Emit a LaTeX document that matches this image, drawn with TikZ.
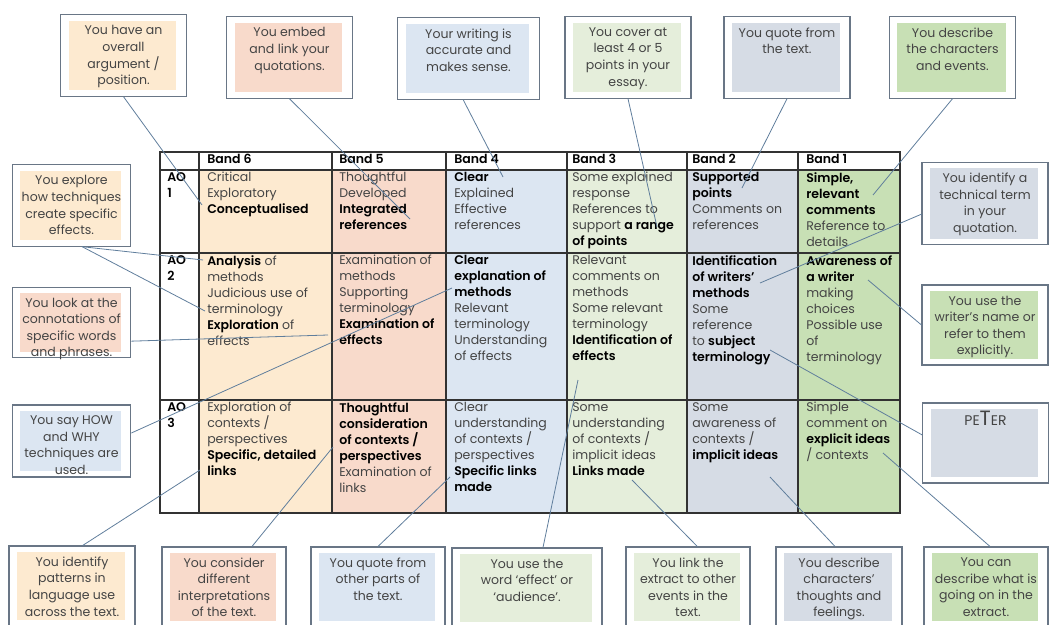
\documentclass[tikz,border=0pt]{standalone}
\usepackage{fontspec}
\setmainfont{Poppins}[BoldFont={Poppins SemiBold}]
\usepackage{xcolor}
\usepackage{tikz}
\usetikzlibrary{positioning}

\definecolor{peach}{RGB}{253,234,208}
\definecolor{salmon}{RGB}{248,218,203}
\definecolor{paleblue}{RGB}{220,230,242}
\definecolor{palegreen}{RGB}{229,238,219}
\definecolor{greyblue}{RGB}{214,220,229}
\definecolor{midgreen}{RGB}{200,224,181}
\definecolor{boxline}{RGB}{105,118,134}
\definecolor{linkblue}{RGB}{96,126,156}
\definecolor{textgrey}{RGB}{68,68,68}
\definecolor{gridline}{RGB}{50,50,50}

\newcommand{\cellfont}{\fontsize{9.4}{12}\selectfont}
\newcommand{\callfont}{\fontsize{9.4}{12.4}\selectfont}
\newcommand{\bandbf}[1]{{\bfseries\color{black}#1}}

\begin{document}
\begin{tikzpicture}[x=0.75pt,y=-0.75pt,
    callout/.style={draw=boxline,fill=white,line width=0.8pt,inner sep=0pt,
      path picture={\fill[#1] ([xshift=6pt,yshift=-4.5pt]path picture bounding box.north west)
        rectangle ([xshift=-7.5pt,yshift=4.5pt]path picture bounding box.south east);}},
    calltext/.style={anchor=north,align=center,font=\callfont,text=textgrey,yshift=-5pt},
    cell/.style={anchor=north west,align=left,inner sep=0pt,font=\cellfont,text=textgrey},
    link/.style={draw=linkblue,line width=0.6pt},
    grid line/.style={draw=gridline,line width=0.9pt}]

    \useasboundingbox (0,0) rectangle (1051,625);

    % band colours
    \fill[peach] (199,170) rectangle (332,513);
    \fill[salmon] (332,170) rectangle (446,513);
    \fill[paleblue] (446,170) rectangle (567,513);
    \fill[palegreen] (567,170) rectangle (687,513);
    \fill[greyblue] (687,170) rectangle (798,513);
    \fill[midgreen] (798,170) rectangle (900,513);

    % grid
    \draw[grid line] (160,152) rectangle (900,513);
    \draw[grid line] (160,170) -- (900,170);
    \draw[grid line] (160,253) -- (900,253);
    \draw[grid line] (160,400) -- (900,400);
    \foreach \cx in {199,332,446,567,687,798}
        \draw[grid line] (\cx,152) -- (\cx,513);

    % header
    \node[cell] (h6) at (207,154) {\bandbf{Band 6}};
    \node[cell] (h5) at (339,154) {\bandbf{Band 5}};
    \node[cell] (h4) at (454,154) {\bandbf{Band 4}};
    \node[cell] (h3) at (572,154) {\bandbf{Band 3}};
    \node[cell] (h2) at (692,154) {\bandbf{Band 2}};
    \node[cell] (h1) at (806,154) {\bandbf{Band 1}};

    % AO 1
    \node[cell] (ao1) at (167,172) {\bandbf{AO}\\\bandbf{1}};
    \node[cell] (b6a1) at (207,172) {Critical\\Exploratory\\\bandbf{Conceptualised}};
    \node[cell] (b5a1) at (339,172) {Thoughtful\\Developed\\\bandbf{Integrated}\\\bandbf{references}};
    \node[cell] (b4a1) at (454,172) {\bandbf{Clear}\\Explained\\Effective\\references};
    \node[cell] (b3a1) at (572,172) {Some explained\\response\\References to\\support \bandbf{a range}\\\bandbf{of points}};
    \node[cell] (b2a1) at (692,172) {\bandbf{Supported}\\\bandbf{points}\\Comments on\\references};
    \node[cell] (b1a1) at (806,172) {\bandbf{Simple,}\\\bandbf{relevant}\\\bandbf{comments}\\Reference to\\details};

    % AO 2
    \node[cell] (ao2) at (167,255) {\bandbf{AO}\\\bandbf{2}};
    \node[cell] (b6a2) at (207,255) {\bandbf{Analysis} of\\methods\\Judicious use of\\terminology\\\bandbf{Exploration} of\\effects};
    \node[cell] (b5a2) at (339,255) {Examination of\\methods\\Supporting\\terminology\\\bandbf{Examination of}\\\bandbf{effects}};
    \node[cell] (b4a2) at (454,255) {\bandbf{Clear}\\\bandbf{explanation of}\\\bandbf{methods}\\Relevant\\terminology\\Understanding\\of effects};
    \node[cell] (b3a2) at (572,255) {Relevant\\comments on\\methods\\Some relevant\\terminology\\\bandbf{Identification of}\\\bandbf{effects}};
    \node[cell] (b2a2) at (692,255) {\bandbf{Identification}\\\bandbf{of writers'}\\\bandbf{methods}\\Some\\reference\\to \bandbf{subject}\\\bandbf{terminology}};
    \node[cell] (b1a2) at (806,255) {\bandbf{Awareness of}\\\bandbf{a writer}\\making\\choices\\Possible use\\of\\terminology};

    % AO 3
    \node[cell] (ao3) at (167,402) {\bandbf{AO}\\\bandbf{3}};
    \node[cell] (b6a3) at (207,402) {Exploration of\\contexts /\\perspectives\\\bandbf{Specific, detailed}\\\bandbf{links}};
    \node[cell] (b5a3) at (339,402) {\bandbf{Thoughtful}\\\bandbf{consideration}\\\bandbf{of contexts /}\\\bandbf{perspectives}\\Examination of\\links};
    \node[cell] (b4a3) at (454,402) {Clear\\understanding\\of contexts /\\perspectives\\\bandbf{Specific links}\\\bandbf{made}};
    \node[cell] (b3a3) at (572,402) {Some\\understanding\\of contexts /\\implicit ideas\\\bandbf{Links made}};
    \node[cell] (b2a3) at (692,402) {Some\\awareness of\\contexts /\\\bandbf{implicit ideas}};
    \node[cell] (b1a3) at (806,402) {Simple\\comment on\\\bandbf{explicit ideas}\\/ contexts};

    % callouts above
    \node[callout=peach,minimum width=94pt,minimum height=61pt,
        label={[calltext]north:{You have an\\overall\\argument /\\position.}}] (argument) at (123.5,55.5) {};
    \node[callout=salmon,minimum width=94pt,minimum height=61pt,
        label={[calltext]north:{You embed\\and link your\\quotations.}}] (embed) at (289.5,57.5) {};
    \node[callout=paleblue,minimum width=106pt,minimum height=61pt,
        label={[calltext]north:{Your writing is\\accurate and\\makes sense.}}] (accurate) at (468.5,58.5) {};
    \node[callout=palegreen,minimum width=94.5pt,minimum height=61pt,
        label={[calltext]north:{You cover at\\least 4 or 5\\points in your\\essay.}}] (range) at (628,57.5) {};
    \node[callout=greyblue,minimum width=94.5pt,minimum height=61pt,
        label={[calltext]north:{You quote from\\the text.}}] (quote) at (787,57.5) {};
    \node[callout=midgreen,minimum width=95pt,minimum height=61pt,
        label={[calltext]north:{You describe\\the characters\\and events.}}] (events) at (952.5,57.5) {};

    % callouts right
    \node[callout=greyblue,minimum width=94.5pt,minimum height=62pt,
        label={[calltext]north:{You identify a\\technical term\\in your\\quotation.}}] (techterm) at (985,203.5) {};
    \node[callout=midgreen,minimum width=94.5pt,minimum height=60pt,
        label={[calltext]north:{You use the\\writer's name or\\refer to them\\explicitly.}}] (writername) at (985,325) {};
    \node[callout=greyblue,minimum width=94pt,minimum height=60pt,
        label={[calltext,yshift=2pt]north:{\fontsize{10.5}{12}\selectfont PE\fontsize{15.5}{15}\selectfont T\fontsize{10.5}{12}\selectfont ER}}] (peter) at (985.5,443) {};

    % callouts left
    \node[callout=peach,minimum width=89pt,minimum height=61pt,
        label={[calltext]north:{You explore\\how techniques\\create specific\\effects.}}] (explore) at (71.5,205.5) {};
    \node[callout=salmon,minimum width=89pt,minimum height=53pt,
        label={[calltext]north:{You look at the\\connotations of\\specific words\\and phrases.}}] (connotations) at (71.5,322.5) {};
    \node[callout=paleblue,minimum width=89pt,minimum height=54pt,
        label={[calltext]north:{You say HOW\\and WHY\\techniques are\\used.}}] (howwhy) at (71.5,441) {};

    % callouts below
    \node[callout=peach,minimum width=94.5pt,minimum height=60pt,
        label={[calltext]north:{You identify\\patterns in\\language use\\across the text.}}] (patterns) at (72,586) {};
    \node[callout=salmon,minimum width=93pt,minimum height=60pt,
        label={[calltext]north:{You consider\\different\\interpretations\\of the text.}}] (interpret) at (224,587) {};
    \node[callout=paleblue,minimum width=100.5pt,minimum height=60pt,
        label={[calltext]north:{You quote from\\other parts of\\the text.}}] (otherparts) at (378,587) {};
    \node[callout=palegreen,minimum width=112.5pt,minimum height=60pt,
        label={[calltext]north:{You use the\\word `effect' or\\`audience'.}}] (effectword) at (527,588) {};
    \node[callout=palegreen,minimum width=93pt,minimum height=60pt,
        label={[calltext]north:{You link the\\extract to other\\events in the\\text.}}] (linkextract) at (688,587) {};
    \node[callout=greyblue,minimum width=94.5pt,minimum height=60pt,
        label={[calltext]north:{You describe\\characters'\\thoughts and\\feelings.}}] (thoughts) at (839,587) {};
    \node[callout=midgreen,minimum width=93pt,minimum height=60pt,
        label={[calltext]north:{You can\\describe what is\\going on in the\\extract.}}] (goingon) at (986,587) {};

    % where the lines land in the table
    \coordinate (toconcept) at (202,205);
    \coordinate (tointegrated) at (410,219);
    \coordinate (toclear) at (503,177);
    \coordinate (torange) at (657,227);
    \coordinate (tosupported) at (742,188);
    \coordinate (tosimple) at (873,195);
    \coordinate (towriters) at (760,283);
    \coordinate (toawareness) at (868,280);
    \coordinate (tosubject) at (770,350);
    \coordinate (toanalysis) at (203,260);
    \coordinate (toexploration) at (205,311);
    \coordinate (toexamination) at (328,335);
    \coordinate (toexplanation) at (452,288);
    \coordinate (tolinks) at (200,470);
    \coordinate (toconsider) at (333,447);
    \coordinate (tospecific) at (450,477);
    \coordinate (toeffects) at (578,380);
    \coordinate (tolinksmade) at (632,480);
    \coordinate (toimplicit) at (770,477);
    \coordinate (toexplicit) at (883,453);

    % connectors
    \draw[link] (argument.south) -- (toconcept);
    \draw[link] (embed.south) -- (tointegrated);
    \draw[link] ([xshift=-4pt]accurate.south) -- (toclear);
    \draw[link] (range.south) -- (torange);
    \draw[link] (quote.south) -- (tosupported);
    \draw[link] (events.south) -- (tosimple);
    \draw[link] ([yshift=-8pt]techterm.west) -- (towriters);
    \draw[link] (writername.west) -- (toawareness);
    \draw[link] ([yshift=6pt]peter.west) -- (tosubject);
    \draw[link] ([xshift=8pt]explore.south) -- (toanalysis);
    \draw[link] ([xshift=8pt]explore.south) -- (toexploration);
    \draw[link] ([yshift=-14pt]connotations.east) -- (toexamination);
    \draw[link] ([yshift=6pt]howwhy.east) -- (toexplanation);
    \draw[link] ([xshift=8pt]patterns.north) -- (tolinks);
    \draw[link] ([xshift=21pt]interpret.north) -- (toconsider);
    \draw[link] (otherparts.north) -- (tospecific);
    \draw[link] ([xshift=12pt]effectword.north) -- (toeffects);
    \draw[link] ([xshift=7pt]linkextract.north) -- (tolinksmade);
    \draw[link] ([xshift=-3pt]thoughts.north) -- (toimplicit);
    \draw[link] ([xshift=3pt]goingon.north) -- (toexplicit);
\end{tikzpicture}
\end{document}
